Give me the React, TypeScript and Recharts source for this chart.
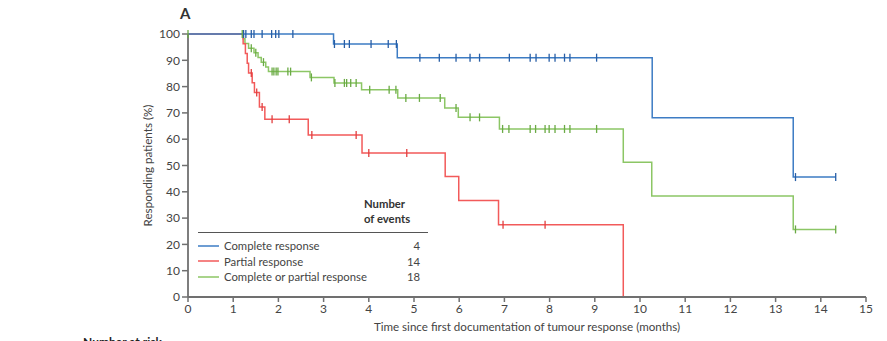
import { LineChart, Line, XAxis, YAxis, Label } from "recharts";

// [months, responding %, censored (1) or event/step (0)]
const completeResponse: [number, number, number][] = [
  [0, 100, 0], [1.23, 100, 1], [1.28, 100, 1], [1.4, 100, 1], [1.46, 100, 1], [1.64, 100, 1],
  [1.85, 100, 1], [1.94, 100, 1], [2.01, 100, 1], [2.32, 100, 1],
  [3.22, 96.2, 0], [3.24, 96.2, 1], [3.46, 96.2, 1], [3.57, 96.2, 1], [4.05, 96.2, 1],
  [4.43, 96.2, 1], [4.61, 96.2, 1],
  [4.63, 91, 0], [5.13, 91, 1], [5.56, 91, 1], [5.93, 91, 1], [6.24, 91, 1], [6.45, 91, 1],
  [7.11, 91, 1], [7.57, 91, 1], [7.7, 91, 1], [7.99, 91, 1], [8.12, 91, 1], [8.33, 91, 1],
  [8.45, 91, 1], [9.04, 91, 1],
  [10.27, 68.2, 0], [13.39, 45.6, 0], [13.44, 45.6, 1], [14.33, 45.6, 1],
];

const partialResponse: [number, number, number][] = [
  [0, 100, 0], [1.22, 96.3, 0], [1.27, 92.6, 0], [1.31, 88.9, 0], [1.34, 85.2, 0], [1.4, 85.2, 1],
  [1.42, 81.5, 0], [1.47, 77.8, 0], [1.52, 77.8, 1], [1.58, 72.2, 0], [1.64, 72.2, 1],
  [1.7, 67.6, 0], [1.86, 67.6, 1], [2.24, 67.6, 1],
  [2.66, 61.6, 0], [2.74, 61.6, 1], [3.72, 61.6, 1],
  [3.85, 54.8, 0], [4.0, 54.8, 1], [4.84, 54.8, 1],
  [5.69, 45.8, 0], [5.99, 36.7, 0], [6.87, 27.5, 0], [6.97, 27.5, 1], [7.9, 27.5, 1],
  [9.63, 0, 0],
];

const eitherResponse: [number, number, number][] = [
  [0, 100, 1], [1.2, 100, 1], [1.22, 98.2, 0], [1.26, 96.4, 0], [1.34, 94.6, 0], [1.4, 94.6, 1],
  [1.46, 92.9, 0], [1.5, 92.9, 1], [1.55, 91.1, 0], [1.62, 89.3, 0], [1.67, 89.3, 1],
  [1.72, 87.5, 0], [1.78, 85.7, 0], [1.86, 85.7, 1], [1.9, 85.7, 1], [1.95, 85.7, 1],
  [1.99, 85.7, 1], [2.21, 85.7, 1], [2.27, 85.7, 1],
  [2.7, 83.5, 0], [2.73, 83.5, 1],
  [3.23, 81.4, 0], [3.25, 81.4, 1], [3.46, 81.4, 1], [3.51, 81.4, 1], [3.6, 81.4, 1], [3.72, 81.4, 1],
  [3.84, 78.8, 0], [4.02, 78.8, 1], [4.45, 78.8, 1], [4.6, 78.8, 1],
  [4.64, 75.7, 0], [4.82, 75.7, 1], [5.12, 75.7, 1], [5.58, 75.7, 1],
  [5.68, 71.9, 0], [5.93, 71.9, 1],
  [5.98, 68.3, 0], [6.24, 68.3, 1], [6.45, 68.3, 1],
  [6.89, 63.9, 0], [6.96, 63.9, 1], [7.1, 63.9, 1], [7.57, 63.9, 1], [7.69, 63.9, 1], [7.9, 63.9, 1],
  [7.99, 63.9, 1], [8.12, 63.9, 1], [8.33, 63.9, 1], [8.45, 63.9, 1], [9.04, 63.9, 1],
  [9.63, 51.2, 0], [10.26, 38.4, 0], [13.39, 25.7, 0], [13.44, 25.7, 1], [14.33, 25.7, 1],
];

const xTicks = [0, 1, 2, 3, 4, 5, 6, 7, 8, 9, 10, 11, 12, 13, 14, 15];
const yTicks = [0, 10, 20, 30, 40, 50, 60, 70, 80, 90, 100];

const SERIES = [
  { key: "cr", name: "Complete response", events: 4, color: "#3d7cc4", mark: "#285ea6", rows: completeResponse },
  { key: "pr", name: "Partial response", events: 14, color: "#f25a5a", mark: "#e23f3f", rows: partialResponse },
  { key: "either", name: "Complete or partial response", events: 18, color: "#8cc665", mark: "#6aaa44", rows: eitherResponse },
];

const FONT = "Lato, 'Liberation Sans', sans-serif";
const AXIS = "#707070";
const TEXT = "#444";

const toPoints = (rows: [number, number, number][]) => rows.map(([t, v, c]) => ({ t, v, c }));

// censored observations get a short vertical tick mark
function censorMark(color: string) {
  return (p: any) => {
    const { cx, cy, payload, index } = p;
    if (!payload.c) return <g key={index} />;
    return <line key={index} x1={cx} x2={cx} y1={cy - 4} y2={cy + 4} stroke={color} strokeWidth={1.3} />;
  };
}

function EventsLegend() {
  return (
    <div style={{ position: "absolute", left: 198, top: 196, width: 230, fontFamily: FONT, fontSize: 11.3, color: TEXT }}>
      <div style={{ marginLeft: 166, fontWeight: 700, lineHeight: "15px", color: "#333" }}>
        Number<br />of events
      </div>
      <div style={{ borderTop: "1px solid #555", marginTop: 6, paddingTop: 5 }}>
        {SERIES.map((s) => (
          <div key={s.key} style={{ display: "flex", alignItems: "center", height: 15.5 }}>
            <svg width={21} height={4} style={{ marginRight: 5 }}>
              <line x1={0} x2={21} y1={2} y2={2} stroke={s.color} strokeWidth={1.5} />
            </svg>
            <span style={{ width: 182 }}>{s.name}</span>
            <span style={{ width: 14, textAlign: "right" }}>{s.events}</span>
          </div>
        ))}
      </div>
    </div>
  );
}

export default function App() {
  return (
    <div style={{ position: "fixed", left: 0, top: 0, width: 887, height: 341, overflow: "hidden", background: "#fff" }}>
      <div style={{ position: "absolute", left: 180, top: 4, fontFamily: FONT, fontWeight: 700, fontSize: 15, color: "#333" }}>A</div>
      <LineChart width={887} height={341} margin={{ top: 34, right: 21, left: 0, bottom: 0 }}>
        <XAxis
          type="number"
          dataKey="t"
          domain={[0, 15]}
          ticks={xTicks}
          allowDuplicatedCategory={false}
          tick={{ fill: TEXT, fontSize: 12, fontFamily: FONT }}
          tickSize={5}
          tickLine={{ stroke: AXIS, strokeWidth: 1.5 }}
          axisLine={{ stroke: AXIS, strokeWidth: 1.8 }}
          height={44}
        >
          <Label
            content={({ viewBox }: any) => (
              <text x={viewBox.x + viewBox.width / 2} y={viewBox.y + 34} textAnchor="middle" fill={TEXT} fontSize={11.6} fontFamily={FONT}>
                Time since first documentation of tumour response (months)
              </text>
            )}
          />
        </XAxis>
        <YAxis
          type="number"
          domain={[0, 100]}
          ticks={yTicks}
          tick={{ fill: TEXT, fontSize: 12, fontFamily: FONT }}
          tickSize={6}
          tickLine={{ stroke: AXIS, strokeWidth: 1.5 }}
          axisLine={{ stroke: AXIS, strokeWidth: 1.8 }}
          width={188}
        >
          <Label
            content={({ viewBox }: any) => {
              const x = viewBox.x + viewBox.width - 36;
              const y = viewBox.y + viewBox.height / 2;
              return (
                <text x={x} y={y} transform={`rotate(-90, ${x}, ${y})`} textAnchor="middle" fill={TEXT} fontSize={11.6} fontFamily={FONT}>
                  Responding patients (%)
                </text>
              );
            }}
          />
        </YAxis>
        {[SERIES[2], SERIES[1], SERIES[0]].map((s) => (
          <Line
            key={s.key}
            data={toPoints(s.rows)}
            dataKey="v"
            type="stepAfter"
            stroke={s.color}
            strokeWidth={1.5}
            dot={censorMark(s.mark)}
            activeDot={false}
            isAnimationActive={false}
          />
        ))}
      </LineChart>
      <EventsLegend />
      <div style={{ position: "absolute", left: 83, top: 334, fontFamily: FONT, fontWeight: 700, fontSize: 12, color: "#222" }}>
        Number at risk
      </div>
    </div>
  );
}
